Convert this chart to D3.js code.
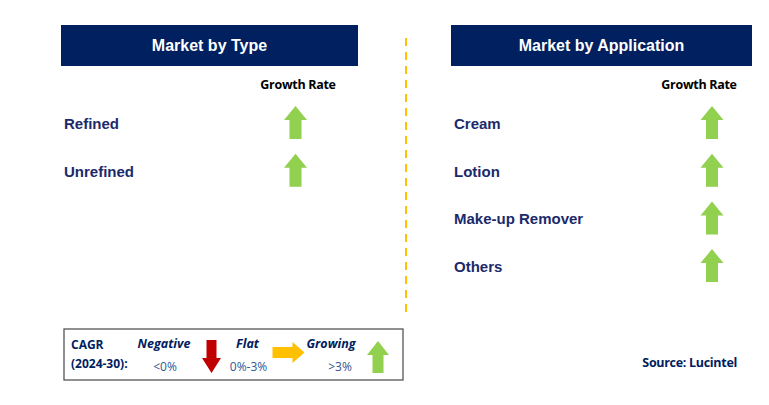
<!DOCTYPE html>
<html>
<head>
<meta charset="utf-8">
<script src="https://cdn.jsdelivr.net/npm/d3@7"></script>
<style>
  body { margin: 0; background: #fff; }
  svg { display: block; }
</style>
</head>
<body>
<svg id="chart"></svg>
<script>
// data
var typeCategories = ['Refined', 'Unrefined'];
var typeGrowth = ['up', 'up'];
var appCategories = ['Cream', 'Lotion', 'Make-up Remover', 'Others'];
var appGrowth = ['up', 'up', 'up', 'up'];
var panelTitles = ['Market by Type', 'Market by Application'];
var legendItems = [
  { label: 'Negative', range: '<0%', dir: 'down' },
  { label: 'Flat', range: '0%-3%', dir: 'right' },
  { label: 'Growing', range: '>3%', dir: 'up' }
];

var W = 769, H = 405;
var NAVY = '#002060', LABEL = '#1b2a6b';
var COLORS = { up: '#92D050', down: '#C00000', right: '#FFC000' };

var svg = d3.select('#chart').attr('width', W).attr('height', H);

// arrow shape: box (x,y,w,h), shaft width, head length
function arrowPath(dir, x, y, w, h, shaft, head) {
  var p = d3.path();
  if (dir === 'up' || dir === 'down') {
    var cx = x + w / 2, s = shaft / 2;
    if (dir === 'up') {
      p.moveTo(cx, y); p.lineTo(x + w, y + head); p.lineTo(cx + s, y + head);
      p.lineTo(cx + s, y + h); p.lineTo(cx - s, y + h); p.lineTo(cx - s, y + head);
      p.lineTo(x, y + head);
    } else {
      p.moveTo(cx, y + h); p.lineTo(x + w, y + h - head); p.lineTo(cx + s, y + h - head);
      p.lineTo(cx + s, y); p.lineTo(cx - s, y); p.lineTo(cx - s, y + h - head);
      p.lineTo(x, y + h - head);
    }
  } else {
    var cy = y + h / 2, t = shaft / 2;
    p.moveTo(x + w, cy); p.lineTo(x + w - head, y); p.lineTo(x + w - head, cy - t);
    p.lineTo(x, cy - t); p.lineTo(x, cy + t); p.lineTo(x + w - head, cy + t);
    p.lineTo(x + w - head, y + h);
  }
  p.closePath();
  return p.toString();
}

function panel(x0, width, title, cats, growth, arrowCx, growthCx) {
  var g = svg.append('g');
  g.append('rect').attr('x', x0).attr('y', 25).attr('width', width).attr('height', 41).attr('fill', NAVY);
  g.append('text').attr('x', x0 + width / 2).attr('y', 51)
    .attr('text-anchor', 'middle').attr('fill', '#fff')
    .style('font-family', '"Liberation Sans", Arial, sans-serif')
    .style('font-weight', 'bold').style('font-size', '16px').text(title);
  g.append('text').attr('x', growthCx).attr('y', 89)
    .attr('text-anchor', 'middle').attr('fill', '#000')
    .style('font', 'bold 12.5px "Open Sans", sans-serif').style('letter-spacing', '-0.3px')
    .text('Growth Rate');

  var y = d3.scaleLinear().domain([0, 1]).range([129, 176.7]);
  var rows = g.selectAll('g.row').data(cats).join('g').attr('class', 'row');
  rows.append('text').attr('x', x0 + 3).attr('y', function(d, i) { return y(i); })
    .attr('fill', LABEL)
    .style('font', 'bold 15px "Liberation Sans", Arial, sans-serif')
    .text(function(d) { return d; });
  rows.append('path')
    .attr('d', function(d, i) { return arrowPath(growth[i], arrowCx - 11.5, y(i) - 23, 23, 33, 12, 14); })
    .attr('fill', function(d, i) { return COLORS[growth[i]]; });
}

panel(61, 297, panelTitles[0], typeCategories, typeGrowth, 295.5, 298);
panel(451, 301, panelTitles[1], appCategories, appGrowth, 712, 699);

// divider
svg.append('line').attr('x1', 406).attr('x2', 406).attr('y1', 38).attr('y2', 314)
  .attr('stroke', '#FFC000').attr('stroke-width', 2).attr('stroke-dasharray', '8,6');

// legend
var lg = svg.append('g');
lg.append('rect').attr('x', 64).attr('y', 329).attr('width', 339).attr('height', 51)
  .attr('fill', '#fff').attr('stroke', '#555').attr('stroke-width', 1.3);
lg.append('text').attr('x', 71).attr('y', 349).attr('fill', NAVY)
  .style('font', 'bold 12px "Open Sans", sans-serif').text('CAGR');
lg.append('text').attr('x', 71).attr('y', 368).attr('fill', NAVY)
  .style('font', 'bold 12px "Open Sans", sans-serif').text('(2024-30):');

var lx = d3.scalePoint().domain(legendItems.map(function(d) { return d.label; })).range([164, 331]);
var arrowBoxes = {
  down: { dx: 38, y: 340, w: 19, h: 33, shaft: 10, head: 15 },
  right: { dx: 25, y: 342, w: 32, h: 21, shaft: 11, head: 12 },
  up: { dx: 36, y: 341, w: 22, h: 32, shaft: 11, head: 14 }
};
var items = lg.selectAll('g.item').data(legendItems).join('g').attr('class', 'item');
items.append('text').attr('x', function(d) { return lx(d.label); }).attr('y', 348)
  .attr('text-anchor', 'middle').attr('fill', NAVY)
  .style('font', 'italic bold 12.5px "Open Sans", sans-serif')
  .text(function(d) { return d.label; });
items.append('text').attr('x', function(d, i) { return lx(d.label) + [1, 1, 9][i]; }).attr('y', 371)
  .attr('text-anchor', 'middle').attr('fill', '#2f5597')
  .style('font', '12px "Open Sans", sans-serif')
  .text(function(d) { return d.range; });
items.append('path')
  .attr('d', function(d) {
    var b = arrowBoxes[d.dir];
    return arrowPath(d.dir, lx(d.label) + b.dx, b.y, b.w, b.h, b.shaft, b.head);
  })
  .attr('fill', function(d) { return COLORS[d.dir]; });

// source
svg.append('text').attr('x', 737).attr('y', 367).attr('text-anchor', 'end').attr('fill', NAVY)
  .style('font', 'bold 12.5px "Open Sans", sans-serif').style('letter-spacing', '-0.3px')
  .text('Source: Lucintel');
</script>
</body>
</html>
